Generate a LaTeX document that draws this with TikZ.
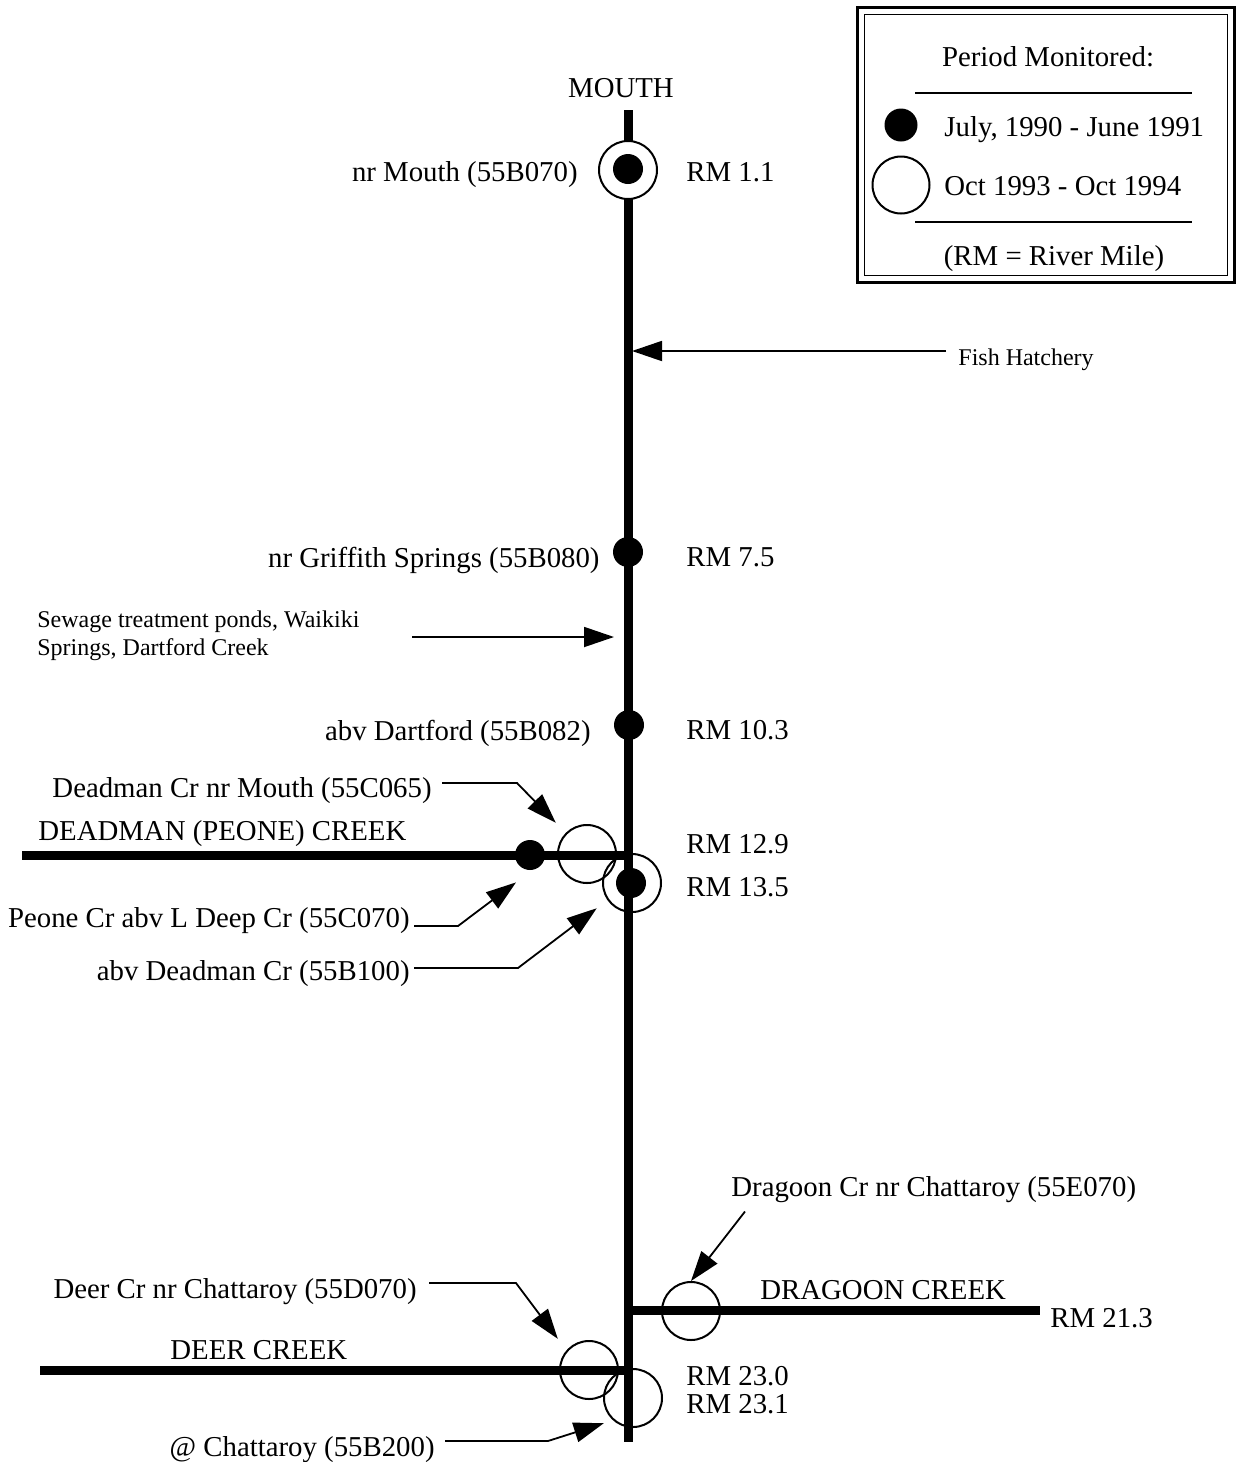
\documentclass[tikz,border=0pt]{standalone}
\usepackage{fontspec}
\setmainfont{Liberation Serif}
\usetikzlibrary{arrows.meta}

\begin{document}
\begin{tikzpicture}[x=0.5pt,y=-0.5pt,
  lbl/.style={inner sep=0pt,font=\fontsize{14.4}{17}\selectfont},
  sml/.style={inner sep=0pt,align=left,font=\fontsize{12}{14}\selectfont},
  dotsite/.style={circle,fill,inner sep=0pt,minimum size=15pt},
  ringsite/.style={circle,draw,line width=1pt,inner sep=0pt,minimum size=29pt},
  river/.style={line width=4.5pt},
  ptr/.style={line width=0.9pt,-{Triangle[length=15pt,width=10pt]}}]
\useasboundingbox (0,0) rectangle (1238,1462);
\coordinate (top) at (628,110);
\coordinate (bot) at (628,1442);
\coordinate (dmw) at (22,855);
\coordinate (dmj) at (628,855);
\coordinate (drj) at (630,1310);
\coordinate (dre) at (1040,1310);
\coordinate (dew) at (40,1370);
\coordinate (dej) at (628,1370);
\draw[river] (top) -- (bot);
\draw[river] (dmw) -- (dmj);
\draw[river] (drj) -- (dre);
\draw[river] (dew) -- (dej);
\draw[line width=1.5pt] (857,7) rectangle (1234,282);
\draw[line width=0.5pt] (864,14) rectangle (1227,275);
\draw[line width=0.8pt] (915,93) -- (1192,93);
\draw[line width=0.8pt] (915,222) -- (1192,222);
\node[lbl] (per) at (1048,57) {Period Monitored:};
\node[dotsite,minimum size=16.5pt] (keydot) at (901,125) {};
\node[ringsite,minimum size=28.5pt] (keyring) at (901,185) {};
\node[lbl,anchor=west] (keyold) at (944,130) {July, 1990 - June 1991};
\node[lbl,anchor=west] (keynew) at (944,186) {Oct 1993 - Oct 1994};
\node[lbl] (keyrm) at (1054,259) {(RM = River Mile)};
\node[lbl] (mouth) at (621,88) {MOUTH};
\node[ringsite,fill=white] (s1r) at (628,170) {};
\node[dotsite] (s1) at (628,169) {};
\node[dotsite] (s2) at (628,552) {};
\node[dotsite] (s3) at (629,725) {};
\node[dotsite] (d1) at (530,855) {};
\node[ringsite] (d2) at (587,854) {};
\node[ringsite] (s4r) at (632,883) {};
\node[dotsite] (s4) at (631,883) {};
\node[ringsite] (g1) at (691,1311) {};
\node[ringsite] (e1) at (589,1370) {};
\node[ringsite] (s5) at (633,1398) {};
\foreach \yy/\rmv [count=\i] in {172/1.1,557/7.5,730/10.3,844/12.9,887/13.5,1376/23.0,1404/23.1}
  \node[lbl,anchor=west] (rm\i) at (686,\yy) {RM \rmv};
\node[lbl,anchor=west] (rm8) at (1050,1318) {RM 21.3};
\node[lbl,anchor=east] (l1) at (578,175) {nr Mouth (55B070)};
\node[lbl,anchor=east] (l2) at (600,560) {nr Griffith Springs (55B080)};
\node[lbl,anchor=east] (l3) at (591,733) {abv Dartford (55B082)};
\node[lbl,anchor=east] (l4) at (432,791) {Deadman Cr nr Mouth (55C065)};
\node[lbl,anchor=east] (l5) at (410,921) {Peone Cr abv L Deep Cr (55C070)};
\node[lbl,anchor=east] (l6) at (410,974) {abv Deadman Cr (55B100)};
\node[lbl,anchor=west] (l7) at (731,1190) {Dragoon Cr nr Chattaroy (55E070)};
\node[lbl,anchor=east] (l8) at (417,1292) {Deer Cr nr Chattaroy (55D070)};
\node[lbl,anchor=east] (l9) at (435,1450) {@ Chattaroy (55B200)};
\node[lbl,anchor=west] (c1) at (38,834) {DEADMAN (PEONE) CREEK};
\node[lbl,anchor=west] (c2) at (760,1290) {DRAGOON CREEK};
\node[lbl,anchor=west] (c3) at (170,1350) {DEER CREEK};
\node[sml,anchor=west] (fish) at (958,360) {Fish Hatchery};
\node[sml,anchor=north west] (sew) at (37,610) {Sewage treatment ponds, Waikiki\\Springs, Dartford Creek};
\coordinate (fishpt) at (632,351);
\coordinate (sewtail) at (412,637);
\coordinate (sewpt) at (614,637);
\draw[ptr] ([shift={(-6pt,4.5pt)}]fish.west) -- (fishpt);
\draw[ptr] (sewtail) -- (sewpt);
\draw[ptr] ([shift={(5pt,4pt)}]l4.east) -- ++(75,0) -- ([shift={(-5pt,5pt)}]d2.north west);
\draw[ptr] ([shift={(2pt,-2.5pt)}]l5.east) -- ++(44,0) -- ([shift={(-7pt,-6pt)}]d1.south);
\draw[ptr] ([shift={(2pt,3pt)}]l6.east) -- ++(104,0) -- ([shift={(-7pt,-2pt)}]s4r.south west);
\draw[ptr] ([shift={(7pt,-4pt)}]l7.south west) -- (g1.north);
\draw[ptr] ([shift={(6pt,4.5pt)}]l8.east) -- ++(87,0) -- ([shift={(-5pt,5pt)}]e1.north west);
\draw[ptr] ([shift={(5pt,4.5pt)}]l9.east) -- ++(103,0) -- ([shift={(-4pt,-2pt)}]s5.south west);
\end{tikzpicture}
\end{document}
